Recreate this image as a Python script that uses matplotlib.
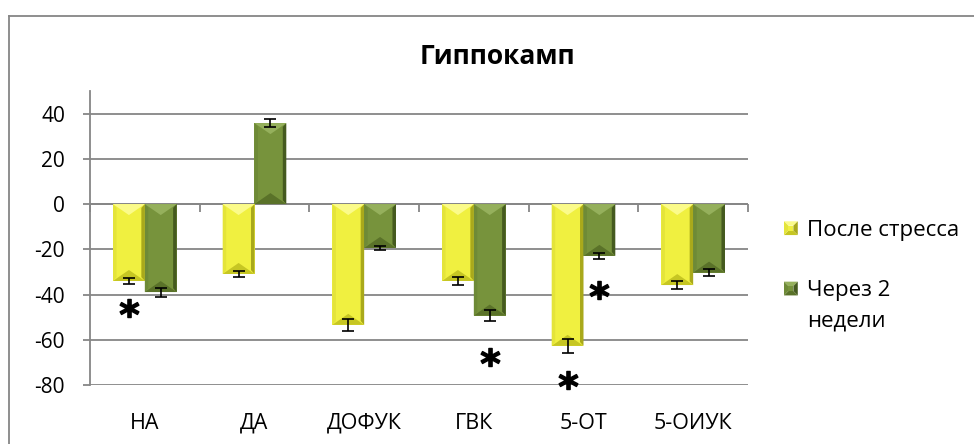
import matplotlib
matplotlib.use("Agg")
import matplotlib.pyplot as plt
import numpy as np
from matplotlib.patches import Polygon
from matplotlib.lines import Line2D
from matplotlib.legend_handler import HandlerBase

# ---------------- data ----------------
categories = ["НА", "ДА", "ДОФУК", "ГВК", "5-ОТ", "5-ОИУК"]
series_names = ["После стресса", "Через 2\nнедели"]
after_stress = [-34.0, -30.9, -53.4, -34.0, -62.7, -35.8]
after_stress_err = [1.5, 1.5, 2.6, 1.85, 3.2, 1.9]
two_weeks = [-38.9, 35.8, -19.4, -49.3, -22.9, -30.3]
two_weeks_err = [2.0, 1.7, 1.0, 2.6, 1.2, 1.6]
yticks = [-80, -60, -40, -20, 0, 20, 40]
title = "Гиппокамп"
# significance stars: category index, series index, y value
star_cat = [0, 3, 4, 4]
star_series = [0, 1, 0, 1]
star_y = [-45.9, -67.5, -77.7, -38.0]

# ---------------- style ----------------
plt.rcParams["font.family"] = ["Open Sans", "DejaVu Sans"]
GRID = "#868686"
YEL = dict(face="#F0F040", light="#FBFB8A", dark="#C6C623", left="#E4E43A", right="#A9A91B")
GRN = dict(face="#77933C", light="#95B05C", dark="#5A7229", left="#6E8A37", right="#455A1F")

W, H, DPI = 9.74, 4.44, 100
fig = plt.figure(figsize=(W, H), dpi=DPI)
px_w, px_h = W * DPI, H * DPI
left, right, top, bottom = 90, 748, 91, 385
ax = fig.add_axes([left / px_w, 1 - bottom / px_h, (right - left) / px_w, (bottom - top) / px_h])

n = len(categories)
x = np.arange(n)
bw = 0.29
ax.set_xlim(-0.5, n - 0.5)
ax.set_ylim(-80, 50)

def bevel_bar(patch, c):
    x0 = patch.get_x(); w = patch.get_width()
    y0 = patch.get_y(); h = patch.get_height()
    yb, yt = min(y0, y0 + h), max(y0, y0 + h)
    x1 = x0 + w
    # convert pixel bevel sizes to data units
    p0 = ax.transData.transform((0, 0)); p1 = ax.transData.transform((1, 1))
    ppx, ppy = p1[0] - p0[0], p1[1] - p0[1]
    sx = 3.5 / ppx
    d = min(11.0 / ppy, (yt - yb) / 2.0)
    xc = (x0 + x1) / 2
    polys = [
        ([(x0, yb), (x0 + sx, yb + d * 0.35), (x0 + sx, yt - d * 0.35), (x0, yt)], c["left"]),
        ([(x1, yb), (x1 - sx, yb + d * 0.35), (x1 - sx, yt - d * 0.35), (x1, yt)], c["right"]),
        ([(x0, yt), (x1, yt), (xc, yt - d)], c["light"]),
        ([(x0, yb), (x1, yb), (xc, yb + d)], c["dark"]),
    ]
    for pts, col in polys:
        ax.add_patch(Polygon(pts, closed=True, facecolor=col, edgecolor="none", zorder=3.5))

bars1 = ax.bar(x - bw / 2, after_stress, bw, color=YEL["face"], edgecolor="none", zorder=3)
bars2 = ax.bar(x + bw / 2, two_weeks, bw, color=GRN["face"], edgecolor="none", zorder=3)
for p in bars1:
    bevel_bar(p, YEL)
for p in bars2:
    bevel_bar(p, GRN)

ax.errorbar(x - bw / 2, after_stress, yerr=after_stress_err, fmt="none", ecolor="black",
            elinewidth=1.2, capsize=4, capthick=1.2, zorder=5)
ax.errorbar(x + bw / 2, two_weeks, yerr=two_weeks_err, fmt="none", ecolor="black",
            elinewidth=1.2, capsize=4, capthick=1.2, zorder=5)

# stars
offs = [-bw / 2, bw / 2]
sx = [x[c] + offs[s] for c, s in zip(star_cat, star_series)]
ax.plot(sx, star_y, linestyle="none", marker=r"$\mathbf{*}$", ms=13.5, color="black",
        zorder=6, clip_on=False)

# axes styling
for s in ["top", "right", "bottom"]:
    ax.spines[s].set_visible(False)
ax.spines["left"].set_color(GRID)
ax.spines["left"].set_linewidth(1.3)
ax.set_yticks(yticks)
ax.set_yticklabels([str(v) for v in yticks])
ax.yaxis.grid(True, color=GRID, linewidth=1.3)
ax.set_axisbelow(True)
ax.tick_params(axis="y", direction="out", length=5, width=1.3, color=GRID, pad=13,
               labelsize=15, labelcolor="black")
ax.set_xticks(x)
ax.set_xticklabels(categories)
ax.tick_params(axis="x", length=0, pad=20, labelsize=15.5, labelcolor="black")

# category axis at zero with boundary tick marks
ax.axhline(0, color=GRID, linewidth=1.3, zorder=2)
p0 = ax.transData.transform((0, 0)); p1 = ax.transData.transform((1, 1))
tick_len = 7.5 / (p1[1] - p0[1])
ax.vlines(np.arange(n + 1) - 0.5, -tick_len, 0, color=GRID, linewidth=1.3, zorder=2,
          clip_on=False)

# title
fig.text(497 / px_w, 1 - 56 / px_h, title, ha="center", va="center",
         fontsize=19, fontweight="bold")

# outer chart border (top and left visible)
fig.add_artist(Line2D([9 / px_w, 1], [1 - 15.7 / px_h] * 2, color=GRID, lw=1.3))
fig.add_artist(Line2D([9 / px_w] * 2, [0, 1 - 15.7 / px_h], color=GRID, lw=1.3))

# legend with bevelled squares
class BevelSquare(HandlerBase):
    def __init__(self, c, yshift=0.0):
        super().__init__()
        self.c = c
        self.yshift = yshift

    def create_artists(self, legend, orig_handle, xdescent, ydescent, width, height,
                       fontsize, trans):
        s = min(width, height)
        x0 = -xdescent + (width - s) / 2
        y0 = -ydescent + (height - s) / 2 + self.yshift * fontsize
        cx, cy = x0 + s / 2, y0 + s / 2
        r = s * 0.18
        c = self.c
        quads = [
            ([(x0, y0 + s), (x0 + s, y0 + s), (cx + r, cy + r), (cx - r, cy + r)], c["light"]),
            ([(x0 + s, y0), (x0 + s, y0 + s), (cx + r, cy + r), (cx + r, cy - r)], c["right"]),
            ([(x0, y0), (x0 + s, y0), (cx + r, cy - r), (cx - r, cy - r)], c["dark"]),
            ([(x0, y0), (x0, y0 + s), (cx - r, cy + r), (cx - r, cy - r)], c["left"]),
            ([(cx - r, cy - r), (cx + r, cy - r), (cx + r, cy + r), (cx - r, cy + r)], c["face"]),
        ]
        return [Polygon(p, closed=True, facecolor=col, edgecolor="none", transform=trans)
                for p, col in quads]

leg = fig.legend([bars1, bars2], series_names, loc="upper left",
                 bbox_to_anchor=(784 / px_w, 1 - 220 / px_h), frameon=False,
                 fontsize=16, handlelength=0.62, handleheight=0.62, handletextpad=0.4,
                 labelspacing=1.75, borderpad=0, borderaxespad=0,
                 handler_map={bars1: BevelSquare(YEL), bars2: BevelSquare(GRN, yshift=0.78)})
for t in leg.get_texts():
    t.set_linespacing(1.6)

fig.savefig("out.png", dpi=DPI)
